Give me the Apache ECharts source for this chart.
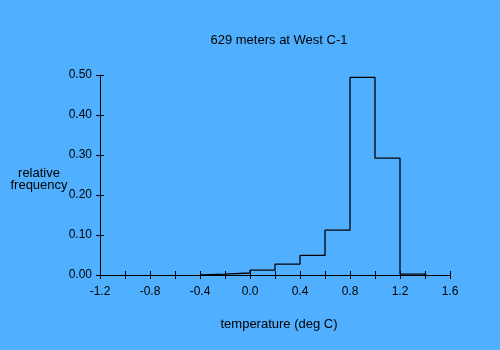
<!DOCTYPE html>
<html>
<head>
<meta charset="utf-8">
<script src="https://cdn.jsdelivr.net/npm/echarts@6/dist/echarts.min.js"></script>
<style>
  html, body { margin: 0; padding: 0; background: #50B0FF; }
  #chart { width: 500px; height: 350px; }
</style>
</head>
<body>
<div id="chart"></div>
<script>
// Histogram bins (width 0.2 deg C) and their relative frequencies
const binEdges = [-0.4, -0.2, 0.0, 0.2, 0.4, 0.6, 0.8, 1.0, 1.2, 1.4];
const frequencies = [0.002, 0.005, 0.012, 0.027, 0.049, 0.112, 0.494, 0.292, 0.002];

const titleText = '629 meters at West C-1';
const xAxisTitle = 'temperature (deg C)';
const yAxisTitle = 'relative\nfrequency';

// Step outline of the histogram, built from the bin edges and frequencies
const outline = [[binEdges[0], 0]];
frequencies.forEach((f, i) => {
  outline.push([binEdges[i], f]);
  outline.push([binEdges[i + 1], f]);
});
outline.push([binEdges[binEdges.length - 1], 0]);

const font = 'Liberation Sans, Arial, sans-serif';
const ink = '#000';

const xCommon = { type: 'value', min: -1.2, max: 1.6, interval: 0.2, splitLine: { show: false } };
const yCommon = { type: 'value', min: 0, max: 0.5, interval: 0.1, splitLine: { show: false } };

const chart = echarts.init(document.getElementById('chart'), null, { renderer: 'canvas' });
chart.setOption({
  backgroundColor: '#50B0FF',
  animation: false,
  grid: { left: 100, right: 50, top: 75, bottom: 75 },
  title: [
    { text: titleText, left: 274, top: 29, textAlign: 'center',
      textStyle: { fontFamily: font, fontSize: 13, fontWeight: 'normal', color: ink } },
    { text: xAxisTitle, left: 274, top: 313, textAlign: 'center',
      textStyle: { fontFamily: font, fontSize: 13, fontWeight: 'normal', color: ink } },
    { text: yAxisTitle, left: 34, top: 162, textAlign: 'center',
      textStyle: { fontFamily: font, fontSize: 13, fontWeight: 'normal', color: ink, lineHeight: 12, align: 'center' } }
  ],
  xAxis: [
    Object.assign({}, xCommon, {
      axisLine: { show: true, onZero: false, lineStyle: { color: ink, width: 1 } },
      axisTick: { show: true, length: 4, lineStyle: { color: ink } },
      axisLabel: {
        color: ink, fontFamily: font, fontSize: 12, margin: 11,
        formatter: v => (Math.round(v * 10) % 4 === 0 ? v.toFixed(1) : '')
      }
    }),
    Object.assign({}, xCommon, {
      position: 'bottom',
      axisLine: { show: false, onZero: false },
      axisTick: { show: true, inside: true, length: 4, lineStyle: { color: ink } },
      axisLabel: { show: false }
    })
  ],
  yAxis: [
    Object.assign({}, yCommon, {
      axisLine: { show: true, onZero: false, lineStyle: { color: ink, width: 1 } },
      axisTick: { show: true, length: 4, lineStyle: { color: ink } },
      axisLabel: { color: ink, fontFamily: font, fontSize: 12, margin: 8, formatter: v => v.toFixed(2) }
    }),
    Object.assign({}, yCommon, {
      position: 'left',
      axisLine: { show: false, onZero: false },
      axisTick: { show: true, inside: true, length: 4, lineStyle: { color: ink } },
      axisLabel: { show: false }
    })
  ],
  series: [{
    type: 'line',
    data: outline,
    symbol: 'none',
    lineStyle: { color: ink, width: 1.3 },
    z: 5
  }]
});
</script>
</body>
</html>
